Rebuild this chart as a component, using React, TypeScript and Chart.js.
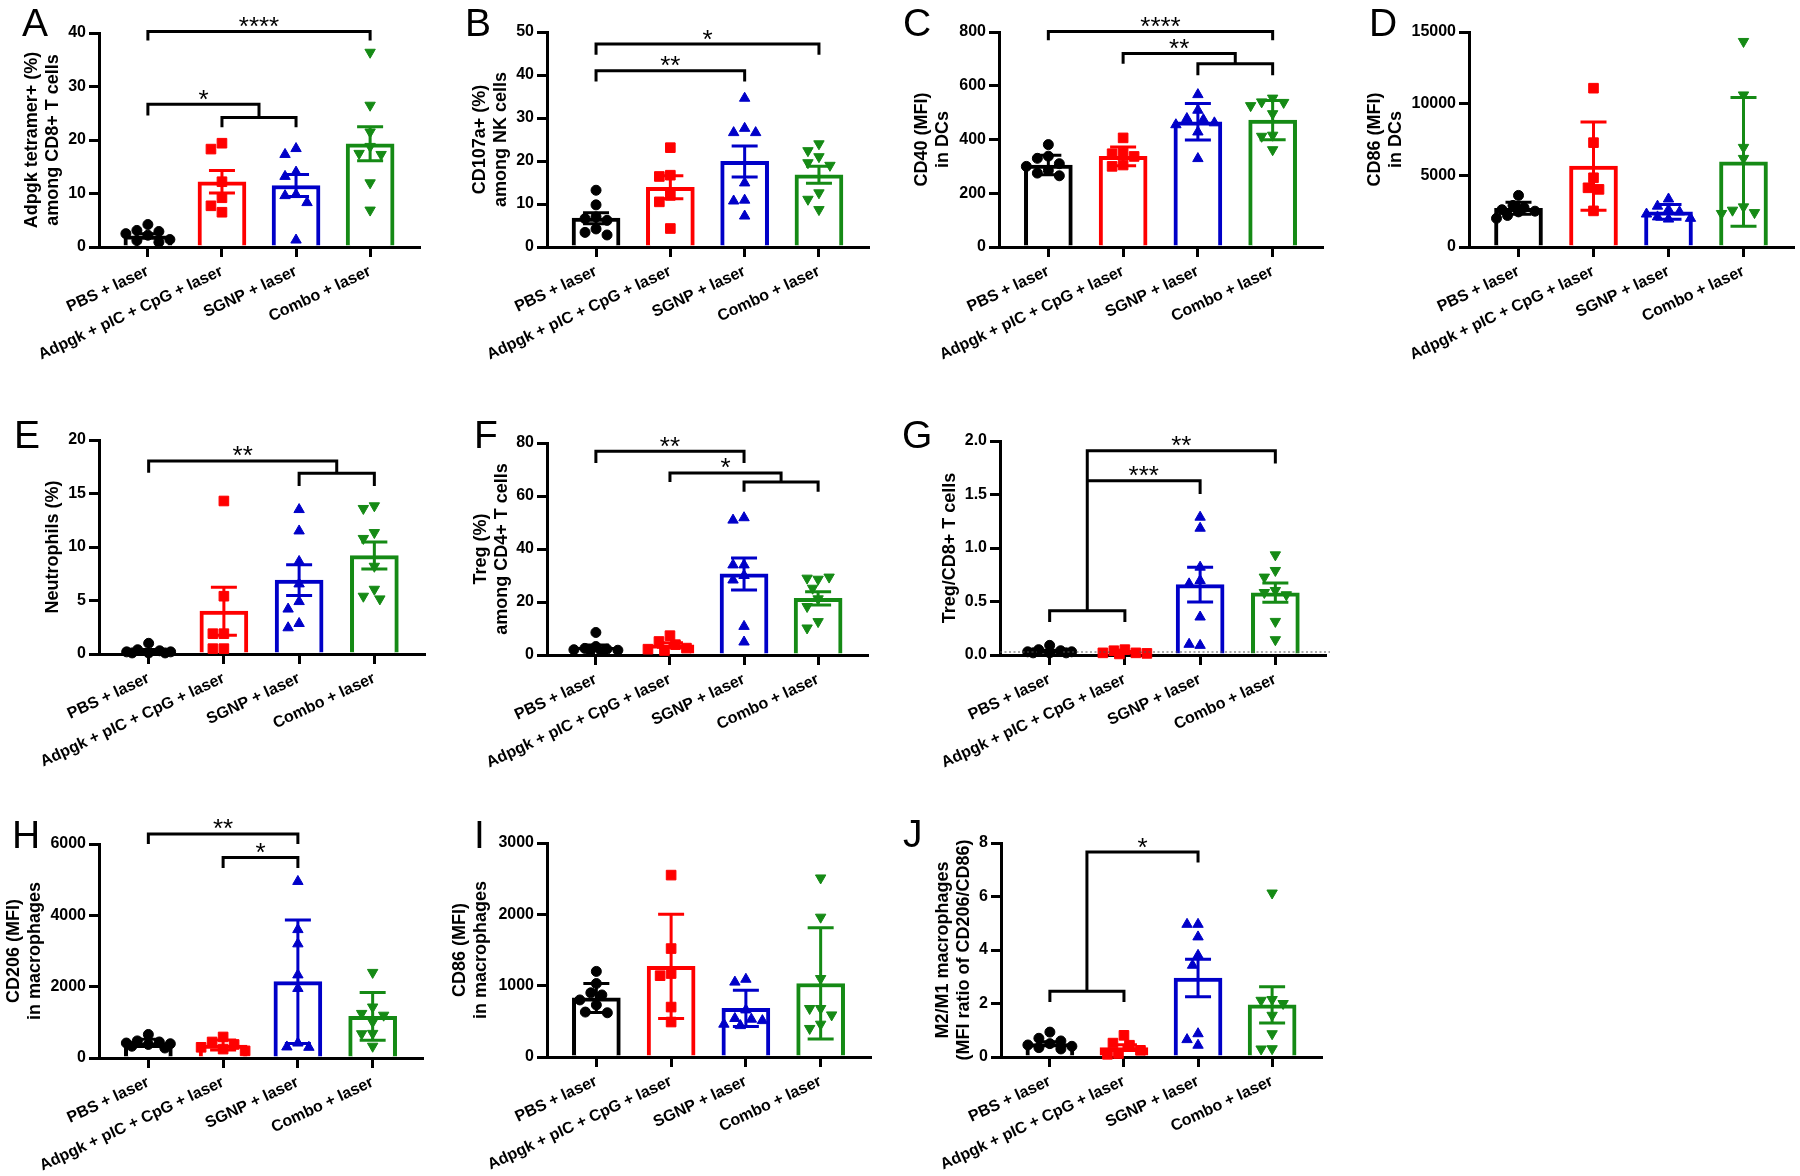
import React, { useEffect, useRef } from "react";
import { Chart, registerables } from "chart.js";

Chart.register(...registerables);

const FONT = '"Liberation Sans", Arial, Helvetica, sans-serif';

// ---------- shared categories / styles ----------
const categories = ["PBS + laser", "Adpgk + pIC + CpG + laser", "SGNP + laser", "Combo + laser"];
const groupColors = ["#000000", "#ff0000", "#0000c8", "#158a15"];
const markerStyles = ["circle", "rect", "triangle", "triangle"];
const markerRotations = [0, 0, 0, 180];
const markerRadii = [5, 6.8, 6, 6];

// ---------- Panel A ----------
const A_title = ["Adpgk tetramer+ (%)", "among CD8+ T cells"];
const A_yTicks = [0, 10, 20, 30, 40];
const A_yTickLabels = ["0", "10", "20", "30", "40"];
const A_points = [
  [4.2, 3.1, 2.9, 2.5, 2.2, 1.4, 1.2, 0.9],
  [19.4, 18.3, 12.2, 9.2, 7.7, 6.5],
  [18.4, 17.3, 14.0, 13.2, 9.8, 9.6, 8.3, 1.3],
  [36.4, 26.5, 21.5, 18.8, 17.5, 17.3, 12.0, 6.9],
];
const A_means = [2.1, 12.2, 11.5, 19.3];
const A_errors = [0.4, 2.1, 2.05, 3.2];
const A_brackets = [
  [0, 3, 40.3, 38.6, 38.6, "****"],
  [0, 1.5, 26.7, 24.6, 24.2, "*"],
  [1, 2, 24.2, 22.4, 22.4, ""],
];

// ---------- Panel B ----------
const B_title = ["CD107a+ (%)", "among NK cells"];
const B_yTicks = [0, 10, 20, 30, 40, 50];
const B_yTickLabels = ["0", "10", "20", "30", "40", "50"];
const B_points = [
  [13.2, 9.8, 7.0, 6.6, 6.2, 4.2, 3.4, 2.8],
  [23.1, 16.7, 16.4, 12.0, 10.5, 4.3],
  [34.6, 27.6, 26.6, 26.6, 14.9, 10.9, 10.7, 7.2],
  [24.0, 22.4, 21.0, 19.6, 19.0, 12.6, 11.1, 8.7],
];
const B_means = [6.7, 13.9, 19.9, 16.8];
const B_errors = [1.28, 2.65, 3.6, 2.0];
const B_brackets = [
  [0, 3, 47.2, 44.7, 44.7, "*"],
  [0, 2, 41.0, 38.5, 38.5, "**"],
];

// ---------- Panel C ----------
const C_title = ["CD40 (MFI)", "in DCs"];
const C_yTicks = [0, 200, 400, 600, 800];
const C_yTickLabels = ["0", "200", "400", "600", "800"];
const C_points = [
  [381, 338, 330, 310, 300, 285, 275, 265],
  [406, 350, 347, 337, 305, 300],
  [567, 509, 478, 474, 462, 455, 428, 329],
  [554, 540, 538, 526, 496, 416, 412, 362],
];
const C_means = [305, 337, 466, 472];
const C_errors = [36, 35, 68, 73];
const C_brackets = [
  [0, 3, 802, 769, 769, "****"],
  [1, 2.5, 720, 682, 682, "**"],
  [2, 3, 682, 639, 639, ""],
];

// ---------- Panel D ----------
const D_title = ["CD86 (MFI)", "in DCs"];
const D_yTicks = [0, 5000, 10000, 15000];
const D_yTickLabels = ["0", "5000", "10000", "15000"];
const D_points = [
  [3600, 2900, 2750, 2600, 2500, 2450, 2200, 2000],
  [11080, 7280, 4830, 4130, 4020, 2520],
  [3350, 2850, 2600, 2450, 2300, 2100, 2000, 1950],
  [14340, 10610, 6950, 6180, 2800, 2570, 2400, 2340],
];
const D_means = [2700, 5645, 2450, 5936];
const D_errors = [420, 3080, 520, 4490];
const D_brackets: any[] = [];

// ---------- Panel E ----------
const E_title = ["Neutrophils (%)"];
const E_yTicks = [0, 5, 10, 15, 20];
const E_yTickLabels = ["0", "5", "10", "15", "20"];
const E_points = [
  [1.0, 0.4, 0.3, 0.2, 0.2, 0.1, 0.1, 0.1],
  [14.3, 5.4, 1.9, 1.9, 0.5, 0.5],
  [13.5, 11.5, 8.65, 6.55, 4.9, 4.2, 2.85, 2.45],
  [13.85, 13.6, 11.35, 10.8, 8.2, 6.05, 5.4, 5.15],
];
const E_means = [0.3, 4.0, 6.9, 9.2];
const E_errors = [0.12, 2.25, 1.43, 1.26];
const E_brackets = [
  [0, 2.5, 18.04, 16.95, 16.9, "**"],
  [2, 3, 16.9, 15.7, 15.7, ""],
];

// ---------- Panel F ----------
const F_title = ["Treg (%)", "among CD4+ T cells"];
const F_yTicks = [0, 20, 40, 60, 80];
const F_yTickLabels = ["0", "20", "40", "60", "80"];
const F_points = [
  [8.5, 3.2, 2.5, 2.2, 2.0, 1.8, 1.6, 1.4],
  [7.3, 5.1, 3.9, 2.6, 2.2, 1.7],
  [51.8, 50.9, 34.0, 34.0, 30.0, 28.3, 10.8, 4.9],
  [28.6, 29.0, 29.4, 25.2, 21.2, 18.3, 12.6, 10.2],
];
const F_means = [2.9, 3.8, 30.6, 21.4];
const F_errors = [0.85, 0.85, 6.05, 2.5];
const F_brackets = [
  [0, 2, 76.9, 72.5, 72.5, "**"],
  [1, 2.5, 68.7, 65.3, 65.3, "*"],
  [2, 3, 65.3, 61.6, 61.6, ""],
];

// ---------- Panel G ----------
const G_title = ["Treg/CD8+ T cells"];
const G_yTicks = [0, 0.5, 1.0, 1.5, 2.0];
const G_yTickLabels = ["0.0", "0.5", "1.0", "1.5", "2.0"];
const G_points = [
  [0.09, 0.05, 0.04, 0.03, 0.03, 0.02, 0.02, 0.02],
  [0.05, 0.04, 0.02, 0.02, 0.015, 0.01],
  [1.288, 1.185, 0.821, 0.696, 0.665, 0.355, 0.09, 0.1],
  [0.936, 0.79, 0.728, 0.603, 0.584, 0.563, 0.314, 0.143],
];
const G_means = [0.035, 0.026, 0.658, 0.582];
const G_errors = [0.009, 0.006, 0.163, 0.09];
const G_brackets = [
  [0, 1, 0.413, 0.308, 0.308, ""],
  [0.5, 3, 1.909, 0.413, 1.79, "**"],
  [0.5, 2, 1.629, 1.629, 1.505, "***"],
];

// ---------- Panel H ----------
const H_title = ["CD206 (MFI)", "in macrophages"];
const H_yTicks = [0, 2000, 4000, 6000];
const H_yTickLabels = ["0", "2000", "4000", "6000"];
const H_points = [
  [660, 480, 450, 420, 400, 380, 330, 280],
  [590, 450, 380, 300, 250, 200],
  [4950, 3600, 3200, 2330, 1950, 420, 310, 300],
  [2400, 1430, 1250, 1200, 1010, 690, 680, 330],
];
const H_means = [425, 362, 2140, 1168];
const H_errors = [100, 140, 1730, 670];
const H_brackets = [
  [0, 2, 6281, 6000, 6000, "**"],
  [1, 2, 5624, 5325, 5325, "*"],
];

// ---------- Panel I ----------
const I_title = ["CD86 (MFI)", "in macrophages"];
const I_yTicks = [0, 1000, 2000, 3000];
const I_yTickLabels = ["0", "1000", "2000", "3000"];
const I_points = [
  [1200, 1030, 900, 870, 800, 730, 630, 620],
  [2550, 1520, 1170, 1140, 700, 490],
  [1090, 1050, 660, 540, 530, 510, 460, 440],
  [2510, 1960, 1100, 680, 680, 590, 460, 400],
];
const I_means = [828, 1270, 682, 1031];
const I_errors = [203, 730, 254, 780];
const I_brackets: any[] = [];

// ---------- Panel J ----------
const J_title = ["M2/M1 macrophages", "(MFI ratio of CD206/CD86)"];
const J_yTicks = [0, 2, 4, 6, 8];
const J_yTickLabels = ["0", "2", "4", "6", "8"];
const J_points = [
  [0.93, 0.7, 0.6, 0.5, 0.45, 0.4, 0.35, 0.3],
  [0.81, 0.52, 0.44, 0.25, 0.13, 0.1],
  [4.96, 4.96, 4.49, 3.8, 3.43, 0.87, 0.65, 0.44],
  [6.13, 2.15, 2.12, 2.0, 1.56, 0.87, 0.31, 0.3],
];
const J_means = [0.5, 0.35, 2.95, 1.95];
const J_errors = [0.07, 0.11, 0.7, 0.68];
const J_brackets = [
  [0, 1, 2.456, 2.06, 2.06, ""],
  [0.5, 2, 7.66, 2.456, 7.27, "*"],
];

// ---------- layout (page pixels) ----------
const LAYOUT: any = {
  A: { left: 99, top: 33, bottom: 247, width: 320, titleGap: 46, labelX: 22, labelBase: 36 },
  B: { left: 547, top: 32, bottom: 247, width: 321, titleGap: 46, labelX: 465, labelBase: 36 },
  C: { left: 999, top: 32, bottom: 247, width: 323, titleGap: 56, labelX: 903, labelBase: 36 },
  D: { left: 1469, top: 32, bottom: 247, width: 324, titleGap: 73, labelX: 1369, labelBase: 36 },
  E: { left: 99, top: 440, bottom: 654, width: 325, titleGap: 46, labelX: 14, labelBase: 448 },
  F: { left: 547, top: 443, bottom: 655, width: 320, titleGap: 45, labelX: 474, labelBase: 448 },
  G: { left: 1000, top: 441, bottom: 655, width: 325, titleGap: 50, labelX: 902, labelBase: 448, zeroLine: true },
  H: { left: 99, top: 844, bottom: 1058, width: 323, titleGap: 64, labelX: 12, labelBase: 848 },
  I: { left: 547, top: 843, bottom: 1057, width: 323, titleGap: 66, labelX: 474, labelBase: 848 },
  J: { left: 1001, top: 843, bottom: 1057, width: 320, titleGap: 37, labelX: 903, labelBase: 847 },
};

const X_MIN = -0.66;
const X_MAX = 3.66;
const Y_AXIS_W = 140;
const PAD_TOP = 40;
const PAD_RIGHT = 16;
const X_AXIS_H = 140;
const BAR_W = 48;
const BAR_BORDER = 4;
const CAP_HALF = 13;
const LINE_W = 3;
const TITLE_SIZE = 18;
const TITLE_LH = 21;

const panels = [
  { key: "A", title: A_title, yTicks: A_yTicks, yTickLabels: A_yTickLabels, points: A_points, means: A_means, errors: A_errors, brackets: A_brackets },
  { key: "B", title: B_title, yTicks: B_yTicks, yTickLabels: B_yTickLabels, points: B_points, means: B_means, errors: B_errors, brackets: B_brackets },
  { key: "C", title: C_title, yTicks: C_yTicks, yTickLabels: C_yTickLabels, points: C_points, means: C_means, errors: C_errors, brackets: C_brackets },
  { key: "D", title: D_title, yTicks: D_yTicks, yTickLabels: D_yTickLabels, points: D_points, means: D_means, errors: D_errors, brackets: D_brackets },
  { key: "E", title: E_title, yTicks: E_yTicks, yTickLabels: E_yTickLabels, points: E_points, means: E_means, errors: E_errors, brackets: E_brackets },
  { key: "F", title: F_title, yTicks: F_yTicks, yTickLabels: F_yTickLabels, points: F_points, means: F_means, errors: F_errors, brackets: F_brackets },
  { key: "G", title: G_title, yTicks: G_yTicks, yTickLabels: G_yTickLabels, points: G_points, means: G_means, errors: G_errors, brackets: G_brackets },
  { key: "H", title: H_title, yTicks: H_yTicks, yTickLabels: H_yTickLabels, points: H_points, means: H_means, errors: H_errors, brackets: H_brackets },
  { key: "I", title: I_title, yTicks: I_yTicks, yTickLabels: I_yTickLabels, points: I_points, means: I_means, errors: I_errors, brackets: I_brackets },
  { key: "J", title: J_title, yTicks: J_yTicks, yTickLabels: J_yTickLabels, points: J_points, means: J_means, errors: J_errors, brackets: J_brackets },
];

// simple beeswarm: horizontal pixel offsets so markers do not pile up
function swarmOffsets(values: number[], pxPerUnit: number): number[] {
  const cands = [0, -5.5, 5.5, -11, 11, -16.5, 16.5, -22, 22];
  const minDist = 10.5;
  const placed: { dx: number; y: number }[] = [];
  return values.map((v) => {
    const y = v * pxPerUnit;
    let best = 0;
    let bestD = -1;
    for (const dx of cands) {
      let d = Infinity;
      for (const p of placed) d = Math.min(d, Math.hypot(p.dx - dx, p.y - y));
      if (d >= minDist) {
        best = dx;
        break;
      }
      if (d > bestD) {
        bestD = d;
        best = dx;
      }
    }
    placed.push({ dx: best, y });
    return best;
  });
}

function overlayPlugin(p: any, box: any) {
  return {
    id: "overlay" + p.key,
    afterDatasetsDraw(chart: any) {
      const ctx = chart.ctx;
      const xs = chart.scales.x;
      const ys = chart.scales.y;
      ctx.save();
      if (box.zeroLine) {
        const y0 = ys.getPixelForValue(0) - 3;
        ctx.strokeStyle = "#555";
        ctx.lineWidth = 1.2;
        ctx.setLineDash([2, 2.5]);
        ctx.beginPath();
        ctx.moveTo(chart.chartArea.left, y0);
        ctx.lineTo(chart.chartArea.right + 5, y0);
        ctx.stroke();
        ctx.setLineDash([]);
      }
      // error bars
      p.means.forEach((m: number, i: number) => {
        const e = p.errors[i];
        const x = xs.getPixelForValue(i);
        const yt = ys.getPixelForValue(m + e);
        const yb = ys.getPixelForValue(Math.max(0, m - e));
        ctx.strokeStyle = groupColors[i];
        ctx.lineWidth = LINE_W;
        ctx.lineCap = "butt";
        ctx.beginPath();
        ctx.moveTo(x, yt);
        ctx.lineTo(x, yb);
        ctx.moveTo(x - CAP_HALF, yt);
        ctx.lineTo(x + CAP_HALF, yt);
        ctx.moveTo(x - CAP_HALF, yb);
        ctx.lineTo(x + CAP_HALF, yb);
        ctx.stroke();
      });
      // significance brackets
      p.brackets.forEach((b: any[]) => {
        const [x1, x2, yl, e1, e2, label] = b;
        const px1 = xs.getPixelForValue(x1);
        const px2 = xs.getPixelForValue(x2);
        const py = ys.getPixelForValue(yl);
        ctx.strokeStyle = "#000";
        ctx.lineWidth = LINE_W;
        ctx.lineJoin = "miter";
        ctx.lineCap = "butt";
        ctx.beginPath();
        ctx.moveTo(px1, ys.getPixelForValue(e1));
        ctx.lineTo(px1, py);
        ctx.lineTo(px2, py);
        ctx.lineTo(px2, ys.getPixelForValue(e2));
        ctx.stroke();
        if (label) {
          ctx.font = `26px ${FONT}`;
          ctx.fillStyle = "#000";
          ctx.textAlign = "center";
          ctx.textBaseline = "alphabetic";
          const m = ctx.measureText("*");
          const asc = m.actualBoundingBoxAscent;
          const desc = m.actualBoundingBoxDescent;
          const center = py - 9.5;
          const base = center - (desc - asc) / 2;
          ctx.fillText(label, (px1 + px2) / 2, base);
        }
      });
      ctx.restore();
    },
  };
}

function Panel({ p }: { p: any }) {
  const ref = useRef<HTMLCanvasElement>(null);
  const box = LAYOUT[p.key];
  const plotH = box.bottom - box.top;
  const cw = Y_AXIS_W + box.width + PAD_RIGHT;
  const chh = PAD_TOP + plotH + X_AXIS_H;

  useEffect(() => {
    const canvas = ref.current;
    if (!canvas) return;
    const yMax = p.yTicks[p.yTicks.length - 1];
    const pxPerUnit = plotH / yMax;
    const spacing = box.width / (X_MAX - X_MIN);
    const datasets: any[] = [
      {
        type: "bar",
        data: p.means.map((m: number, i: number) => ({ x: i, y: m })),
        backgroundColor: "#ffffff",
        borderColor: groupColors,
        borderWidth: BAR_BORDER,
        borderSkipped: "start",
        barThickness: BAR_W,
        order: 2,
      },
    ];
    p.points.forEach((vals: number[], gi: number) => {
      const offs = swarmOffsets(vals, pxPerUnit);
      datasets.push({
        type: "scatter",
        data: vals.map((v, k) => ({ x: gi + offs[k] / spacing, y: v })),
        pointStyle: markerStyles[gi],
        rotation: markerRotations[gi],
        pointRadius: markerRadii[gi],
        pointHoverRadius: markerRadii[gi],
        backgroundColor: groupColors[gi],
        borderColor: groupColors[gi],
        borderWidth: 1,
        showLine: false,
        clip: false,
        order: 1,
      });
    });

    const nLines = p.title.length;
    const titlePad = Y_AXIS_W - box.titleGap - (nLines - 1) * TITLE_LH - TITLE_LH / 2;
    const gridOpts = {
      display: true,
      drawOnChartArea: false,
      drawTicks: true,
      tickLength: 10,
      tickWidth: LINE_W,
      tickColor: "#000",
      color: "#000",
      lineWidth: LINE_W,
      offset: false,
    };
    const tickFont = { family: FONT, size: 16, weight: "bold" as const };

    const chart = new Chart(canvas, {
      type: "bar",
      data: { datasets },
      options: {
        responsive: false,
        maintainAspectRatio: false,
        animation: false,
        devicePixelRatio: 1,
        events: [],
        layout: { padding: { left: 0, top: PAD_TOP, right: PAD_RIGHT, bottom: 0 } },
        plugins: { legend: { display: false }, tooltip: { enabled: false } },
        scales: {
          x: {
            type: "linear",
            min: X_MIN,
            max: X_MAX,
            offset: false,
            z: 1,
            afterBuildTicks: (s: any) => {
              s.ticks = categories.map((_, i) => ({ value: i }));
            },
            afterFit: (s: any) => {
              s.height = X_AXIS_H;
            },
            ticks: {
              autoSkip: false,
              minRotation: 25,
              maxRotation: 25,
              padding: 5,
              color: "#000",
              font: tickFont,
              callback: (v: any) => categories[v] ?? "",
            },
            grid: gridOpts,
            border: { display: true, color: "#000", width: LINE_W },
          },
          y: {
            type: "linear",
            min: 0,
            max: yMax,
            z: 1,
            afterBuildTicks: (s: any) => {
              s.ticks = p.yTicks.map((v: number) => ({ value: v }));
            },
            afterFit: (s: any) => {
              s.width = Y_AXIS_W;
            },
            ticks: {
              autoSkip: false,
              padding: 3,
              color: "#000",
              font: tickFont,
              callback: (_v: any, idx: number) => p.yTickLabels[idx],
            },
            grid: gridOpts,
            border: { display: true, color: "#000", width: LINE_W },
            title: {
              display: true,
              text: p.title,
              color: "#000",
              font: { family: FONT, size: TITLE_SIZE, weight: "bold", lineHeight: TITLE_LH / TITLE_SIZE },
              padding: { top: titlePad, bottom: 0 },
            },
          },
        },
      } as any,
      plugins: [overlayPlugin(p, box)],
    });
    return () => chart.destroy();
  }, []);

  return (
    <canvas
      ref={ref}
      width={cw}
      height={chh}
      style={{
        position: "absolute",
        left: box.left - Y_AXIS_W,
        top: box.top - PAD_TOP,
        width: cw,
        height: chh,
      }}
    />
  );
}

export default function App() {
  return (
    <div
      style={{
        position: "absolute",
        left: 0,
        top: 0,
        width: 1800,
        height: 1176,
        overflow: "hidden",
        background: "#ffffff",
      }}
    >
      {panels.map((p) => (
        <Panel key={p.key} p={p} />
      ))}
      {panels.map((p) => (
        <div
          key={"lbl" + p.key}
          style={{
            position: "absolute",
            left: LAYOUT[p.key].labelX,
            top: LAYOUT[p.key].labelBase - 33,
            fontFamily: FONT,
            fontSize: 39,
            lineHeight: "39px",
            color: "#000",
          }}
        >
          {p.key}
        </div>
      ))}
    </div>
  );
}
